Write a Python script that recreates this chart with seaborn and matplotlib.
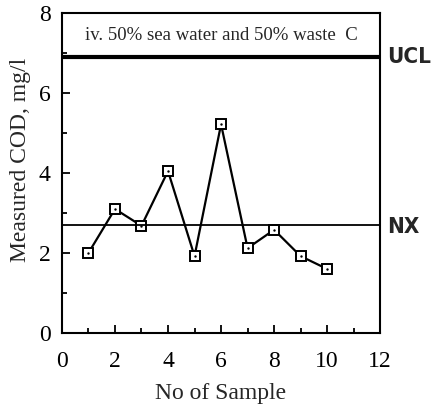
import numpy as np
import pandas as pd
import seaborn as sns
import matplotlib.pyplot as plt
from matplotlib.ticker import MultipleLocator

# control chart data
sample_no = [1, 2, 3, 4, 5, 6, 7, 8, 9, 10]
cod_values = [2.0, 3.1, 2.68, 4.05, 1.92, 5.22, 2.12, 2.58, 1.92, 1.6]
ucl_value = 6.9
mean_value = 2.7
title_text = "iv. 50% sea water and 50% waste  C"

df = pd.DataFrame({"sample": sample_no, "cod": cod_values})

sns.set_style("ticks")
plt.rcParams["font.family"] = ["Liberation Serif", "DejaVu Serif"]

fig = plt.figure(figsize=(4.36, 4.12), dpi=100)
ax = fig.add_axes([0.142, 0.192, 0.730, 0.776])

sns.lineplot(data=df, x="sample", y="cod", ax=ax, color="black", lw=1.6,
             marker="s", markersize=7, markerfacecolor="white",
             markeredgecolor="black", markeredgewidth=1.4)
sns.scatterplot(data=df, x="sample", y="cod", ax=ax, color="black",
                s=3, linewidth=0, zorder=5)

ax.axhline(ucl_value, color="black", lw=3)
ax.axhline(mean_value, color="black", lw=1.3)

ax.set_xlim(0, 12)
ax.set_ylim(0, 8)
ax.xaxis.set_major_locator(MultipleLocator(2))
ax.xaxis.set_minor_locator(MultipleLocator(1))
ax.yaxis.set_major_locator(MultipleLocator(2))
ax.yaxis.set_minor_locator(MultipleLocator(1))
ax.tick_params(which="both", direction="in", top=False, right=False,
               width=1.3, labelsize=17, colors="black")
ax.tick_params(which="major", length=6)
ax.tick_params(which="minor", length=3.5)
ax.tick_params(axis="x", which="major", pad=13)
ax.tick_params(axis="y", which="major", pad=8)
for s in ax.spines.values():
    s.set_linewidth(1.5)
    s.set_color("black")

ax.set_xlabel("No of Sample", fontsize=17, labelpad=8)
ax.set_ylabel("Measured COD, mg/l", fontsize=17)
ax.yaxis.set_label_coords(-0.097, 0.54)

ax.text(0.5, (8 + ucl_value) / 2, title_text, transform=ax.get_yaxis_transform(),
        ha="center", va="center", fontsize=13.5)

ax.text(12.25, ucl_value, "UCL", ha="left", va="center", fontsize=16,
        fontweight="bold", family=["DejaVu Sans"], fontstretch="condensed",
        clip_on=False)
ax.text(12.25, mean_value - 0.05, "NX", ha="left", va="center", fontsize=16,
        fontweight="bold", family=["DejaVu Sans"], fontstretch="condensed",
        clip_on=False)

fig.savefig("out.png", dpi=100)
